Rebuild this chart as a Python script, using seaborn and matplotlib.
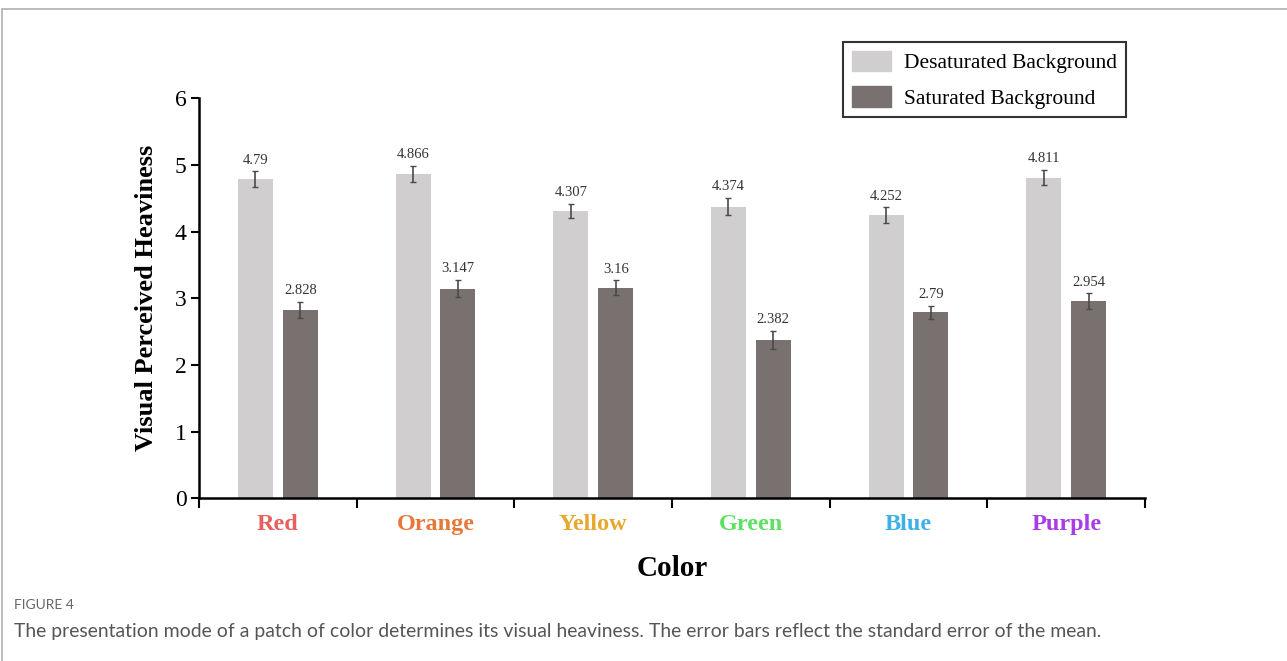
import numpy as np
import pandas as pd
import matplotlib
matplotlib.use('Agg')
import matplotlib.pyplot as plt
from matplotlib.lines import Line2D
import seaborn as sns

# 数据
colors = ['Red', 'Orange', 'Yellow', 'Green', 'Blue', 'Purple']
label_colors = ['#E8605E', '#E8773A', '#E8A830', '#5EE060', '#3DB0E8', '#A83DE8']
desat_mean = [4.79, 4.866, 4.307, 4.374, 4.252, 4.811]
sat_mean = [2.828, 3.147, 3.16, 2.382, 2.79, 2.954]
desat_se = [0.115, 0.125, 0.105, 0.13, 0.115, 0.115]
sat_se = [0.12, 0.125, 0.11, 0.135, 0.1, 0.12]
conditions = ['Desaturated Background', 'Saturated Background']

df = pd.DataFrame({
    'Color': colors * 2,
    'Condition': [conditions[0]] * 6 + [conditions[1]] * 6,
    'Mean': desat_mean + sat_mean,
    'SE': desat_se + sat_se,
})

sns.set_style('white')
plt.rcParams['font.family'] = ['Liberation Serif', 'DejaVu Serif']
plt.rcParams['text.color'] = 'black'
plt.rcParams['axes.labelcolor'] = 'black'
plt.rcParams['xtick.color'] = 'black'
plt.rcParams['ytick.color'] = 'black'

fig = plt.figure(figsize=(12.87, 6.61), dpi=100)
ax = fig.add_axes([199 / 1287, 1 - 498.3 / 661, (1145 - 199) / 1287, (498.3 - 98.3) / 661])

sns.barplot(data=df, x='Color', y='Mean', hue='Condition', order=colors,
            hue_order=conditions, palette=['#D0CECF', '#787170'],
            width=0.57, gap=0.22, errorbar=None, saturation=1,
            edgecolor='none', legend=False, ax=ax)

# 误差线和数值标签
for cont, cond in zip(ax.containers, conditions):
    sub = df[df['Condition'] == cond].set_index('Color').loc[colors]
    xs = [p.get_x() + p.get_width() / 2 for p in cont.patches]
    ax.errorbar(xs, sub['Mean'], yerr=sub['SE'], fmt='none', ecolor='#4a4a4a',
                elinewidth=1.2, capsize=2.5, capthick=1.0, zorder=3)
    for x, m, s in zip(xs, sub['Mean'], sub['SE']):
        ax.text(x, m + s + 0.07, f'{m:g}', ha='center', va='bottom',
                fontsize=10.5, color='#333333')

ax.set_ylim(0, 6)
ax.set_xlim(-0.5, 5.5)
ax.set_yticks(range(7))
ax.tick_params(axis='y', direction='out', length=6, width=1.5, labelsize=17, left=True, pad=3)
ax.tick_params(axis='x', which='major', length=0, labelsize=17.5, pad=11)
ax.set_xticks(np.arange(-0.5, 6, 1), minor=True)
ax.tick_params(axis='x', which='minor', direction='out', length=7, width=1.5, bottom=True)
for lbl, c in zip(ax.get_xticklabels(), label_colors):
    lbl.set_color(c)
    lbl.set_fontweight('bold')

for side in ['top', 'right']:
    ax.spines[side].set_visible(False)
for side in ['left', 'bottom']:
    ax.spines[side].set_linewidth(1.8)
    ax.spines[side].set_color('black')

ax.set_ylabel('Visual Perceived Heaviness', fontsize=19, fontweight='bold', labelpad=12)
ax.set_xlabel('Color', fontsize=21, fontweight='bold', labelpad=15)

# 图例
handles = [plt.Rectangle((0, 0), 1, 1, color=c) for c in ['#D0CECF', '#787170']]
leg = fig.legend(handles, conditions, loc='upper left', bbox_to_anchor=(843 / 1287, 1 - 42 / 661),
                 frameon=True, fancybox=False, edgecolor='black', fontsize=15.5,
                 handlelength=1.85, handleheight=1.1, borderpad=0.4, labelspacing=0.6,
                 handletextpad=0.6, borderaxespad=0)
leg.get_frame().set_linewidth(1.5)

# 页面边框和图注
fig.add_artist(Line2D([2 / 1287, 1], [1 - 9 / 661, 1 - 9 / 661], color='#b0b0b0', lw=1.2))
fig.add_artist(Line2D([2 / 1287, 2 / 1287], [0, 1 - 9 / 661], color='#b0b0b0', lw=1.2))
fig.text(14 / 1287, 1 - 605 / 661, 'FIGURE 4', fontsize=10, color='#666666',
         family=['Lato', 'DejaVu Sans'], va='center')
fig.text(14 / 1287, 1 - 632 / 661,
         'The presentation mode of a patch of color determines its visual heaviness. '
         'The error bars reflect the standard error of the mean.',
         fontsize=13.95, color='#555555', family=['Lato', 'DejaVu Sans'], va='center')

fig.savefig('out.png', dpi=100)
